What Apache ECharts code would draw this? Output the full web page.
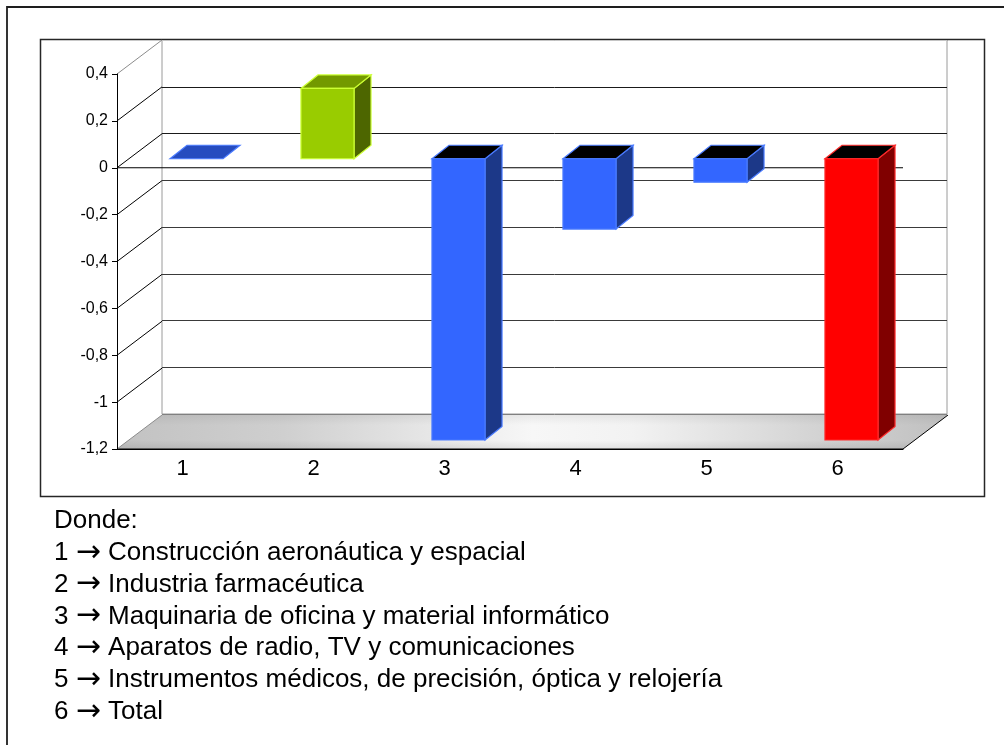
<!DOCTYPE html>
<html>
<head>
<meta charset="utf-8">
<script src="https://cdn.jsdelivr.net/npm/echarts@6/dist/echarts.min.js"></script>
<style>
  html, body { margin: 0; padding: 0; background: #fff; }
  #chart { width: 1004px; height: 745px; }
</style>
</head>
<body>
<div id="chart"></div>
<script>
// Sector numbers on the category axis and their values
const categories = ['1', '2', '3', '4', '5', '6'];
const values = [0, 0.3, -1.2, -0.3, -0.1, -1.2];
// Value axis ticks (min, max and step come from here)
const yTicks = [-1.2, -1, -0.8, -0.6, -0.4, -0.2, 0, 0.2, 0.4];
// Key printed under the chart
const keyTitle = 'Donde:';
const sectorNames = [
  'Construcción aeronáutica y espacial',
  'Industria farmacéutica',
  'Maquinaria de oficina y material informático',
  'Aparatos de radio, TV y comunicaciones',
  'Instrumentos médicos, de precisión, óptica y relojería',
  'Total'
];

// ---- styling ----
const FONT = '"Liberation Sans", Arial, sans-serif';
const DEPTH = [45, -34];        // full depth of the plot box (back wall offset)
const FACE = [14, -9];          // offset of a bar's front face from the front plane
const SIDE = [17, -13.5];       // thickness of a bar in depth
const BAR_WIDTH = 0.405;        // share of the category band
const barStyles = [
  { front: '#3366FF', side: '#1C3888', top: '#264CBF', neg: '#000000', border: '#4A7BFF' },
  { front: '#99CC00', side: '#4D6600', top: '#739900', neg: '#000000', border: '#CCFF33' },
  { front: '#3366FF', side: '#1C3888', top: '#264CBF', neg: '#000000', border: '#4A7BFF' },
  { front: '#3366FF', side: '#1C3888', top: '#264CBF', neg: '#000000', border: '#4A7BFF' },
  { front: '#3366FF', side: '#1C3888', top: '#264CBF', neg: '#000000', border: '#4A7BFF' },
  { front: '#FF0000', side: '#800000', top: '#BF0000', neg: '#000000', border: '#FF2A2A' }
];

const yMin = yTicks[0];
const yMax = yTicks[yTicks.length - 1];
const yStep = 0.2;

function fmt(v) {
  const r = Math.round(v * 10) / 10;
  return String(r).replace('.', ',');
}

// Floor, depth diagonals and the zero line of the front plane
function renderFrame(params, api) {
  const cs = params.coordSys;
  const v = api.value(1);
  const y = api.coord([0, v])[1];
  const x0 = cs.x, x1 = cs.x + cs.width;
  const children = [];
  const edge = (v === yMin || v === yMax);
  if (v === yMin) {
    const pts = [[x0, y], [x1, y], [x1 + DEPTH[0], y + DEPTH[1]], [x0 + DEPTH[0], y + DEPTH[1]]];
    children.push({
      type: 'polygon',
      shape: { points: pts },
      style: {
        fill: {
          type: 'linear', x: 0, y: 0, x2: 1, y2: 0,
          colorStops: [
            { offset: 0, color: '#C2C2C2' },
            { offset: 0.2, color: '#CFCFCF' },
            { offset: 0.5, color: '#F7F7F7' },
            { offset: 0.62, color: '#F2F2F2' },
            { offset: 0.85, color: '#D2D2D2' },
            { offset: 1, color: '#C0C0C0' }
          ]
        },
        stroke: null
      }
    });
    children.push({
      type: 'polygon',
      shape: { points: pts },
      style: {
        fill: {
          type: 'linear', x: 0, y: 0, x2: 0, y2: 1,
          colorStops: [
            { offset: 0, color: 'rgba(0,0,0,0.06)' },
            { offset: 0.3, color: 'rgba(0,0,0,0)' },
            { offset: 0.75, color: 'rgba(0,0,0,0)' },
            { offset: 1, color: 'rgba(0,0,0,0.08)' }
          ]
        },
        stroke: null
      }
    });
    children.push({
      type: 'polyline',
      shape: { points: [[x0, y], [x1, y], [x1 + DEPTH[0], y + DEPTH[1]]] },
      style: { stroke: '#000', lineWidth: 1, fill: null }
    });
  }
  children.push({
    type: 'line',
    shape: { x1: x0, y1: y, x2: x0 + DEPTH[0], y2: y + DEPTH[1] },
    style: { stroke: edge ? '#8C8C8C' : '#000', lineWidth: 1 }
  });
  if (v === 0) {
    children.push({
      type: 'line',
      shape: { x1: x0, y1: y, x2: x1, y2: y },
      style: { stroke: '#000', lineWidth: 1 }
    });
  }
  return { type: 'group', children: children };
}

// 3D bars: front face, right side and top
function renderBar(params, api) {
  const i = api.value(0);
  const v = api.value(1);
  const pv = api.coord([i, v]);
  const p0 = api.coord([i, 0]);
  const w = api.size([1, 0])[0] * BAR_WIDTH;
  const st = barStyles[i];
  const fx = pv[0] + FACE[0] - w / 2;
  const top = Math.min(pv[1], p0[1]) + FACE[1];
  const bottom = Math.max(pv[1], p0[1]) + FACE[1];
  const children = [];
  const h = bottom - top;
  if (h > 0.5) {
    children.push({
      type: 'polygon',
      shape: { points: [[fx + w, top], [fx + w + SIDE[0], top + SIDE[1]], [fx + w + SIDE[0], bottom + SIDE[1]], [fx + w, bottom]] },
      style: { fill: st.side, stroke: st.border, lineWidth: 1.2 }
    });
  }
  children.push({
    type: 'polygon',
    shape: { points: [[fx, top], [fx + SIDE[0], top + SIDE[1]], [fx + w + SIDE[0], top + SIDE[1]], [fx + w, top]] },
    style: { fill: v < 0 ? st.neg : st.top, stroke: st.border, lineWidth: 1.2 }
  });
  if (h > 0.5) {
    children.push({
      type: 'rect',
      shape: { x: fx, y: top, width: w, height: h },
      style: { fill: st.front, stroke: st.border, lineWidth: 1.2 }
    });
  }
  return { type: 'group', children: children };
}

const chart = echarts.init(document.getElementById('chart'), null, { renderer: 'canvas' });

// key lines: title, then "n → name" with the arrow in a font that has a full-size arrow glyph
const keyLines = [keyTitle].concat(sectorNames.map((n, i) => categories[i] + ' {arr|\u2192} ' + n));

const option = {
  animation: false,
  backgroundColor: '#fff',
  textStyle: { fontFamily: FONT },
  grid: [
    // front plane
    { left: 117, top: 74, width: 786, height: 375, show: false, containLabel: false },
    // back wall
    { left: 162, top: 40, width: 785, height: 374, show: true, backgroundColor: '#fff', borderColor: '#9A9A9A', borderWidth: 1, containLabel: false }
  ],
  xAxis: [
    {
      type: 'category', gridIndex: 0, data: categories, position: 'bottom', z: 5,
      axisLine: { show: true, onZero: false, lineStyle: { color: '#000', width: 1 } },
      axisTick: { show: false },
      axisLabel: { color: '#000', fontSize: 22, margin: 9, fontFamily: FONT },
      splitLine: { show: false }
    },
    {
      type: 'category', gridIndex: 1, data: categories,
      axisLine: { show: false }, axisTick: { show: false }, axisLabel: { show: false }, splitLine: { show: false }
    }
  ],
  yAxis: [
    {
      type: 'value', gridIndex: 0, min: yMin, max: yMax, interval: yStep, z: 5,
      axisLine: { show: true, lineStyle: { color: '#000', width: 1 } },
      axisTick: { show: true, length: 5, lineStyle: { color: '#000' } },
      axisLabel: { color: '#000', fontSize: 16, margin: 9, fontFamily: FONT, formatter: fmt },
      splitLine: { show: false }
    },
    {
      type: 'value', gridIndex: 1, min: yMin, max: yMax, interval: yStep,
      axisLine: { show: false }, axisTick: { show: false }, axisLabel: { show: false },
      splitLine: {
        show: true,
        lineStyle: {
          width: 1,
          color: ['#808080', '#3A3A3A', '#3A3A3A', '#3A3A3A', '#3A3A3A', '#3A3A3A', '#1A1A1A', '#1A1A1A', '#C4C4C4']
        }
      }
    }
  ],
  series: [
    {
      type: 'custom', name: 'frame', xAxisIndex: 0, yAxisIndex: 0, z: 2, clip: false, silent: true,
      data: yTicks.map(v => [0, v]),
      encode: { x: 0, y: 1 },
      renderItem: renderFrame
    },
    {
      type: 'custom', name: 'bars', xAxisIndex: 0, yAxisIndex: 0, z: 3, clip: false,
      data: values.map((v, i) => [i, v]),
      encode: { x: 0, y: 1 },
      renderItem: renderBar
    }
  ],
  graphic: [
    {
      type: 'rect', z: 0, silent: true,
      shape: { x: 7, y: 7, width: 1010, height: 760 },
      style: { fill: null, stroke: '#1E1E1E', lineWidth: 1.8 }
    },
    {
      type: 'rect', z: 0, silent: true,
      shape: { x: 40.5, y: 39.5, width: 944, height: 457 },
      style: { fill: null, stroke: '#262626', lineWidth: 1.5 }
    }
  ].concat(keyLines.map((t, k) => ({
    type: 'text', silent: true,
    x: 54, y: 521 + k * 31.8,
    style: {
      text: t, fontSize: 26, fontFamily: FONT, fill: '#000', verticalAlign: 'middle', align: 'left',
      rich: { arr: { fontSize: 30, fontFamily: '"DejaVu Sans", sans-serif', fill: '#000', verticalAlign: 'middle' } }
    }
  })))
};

chart.setOption(option);
</script>
</body>
</html>
